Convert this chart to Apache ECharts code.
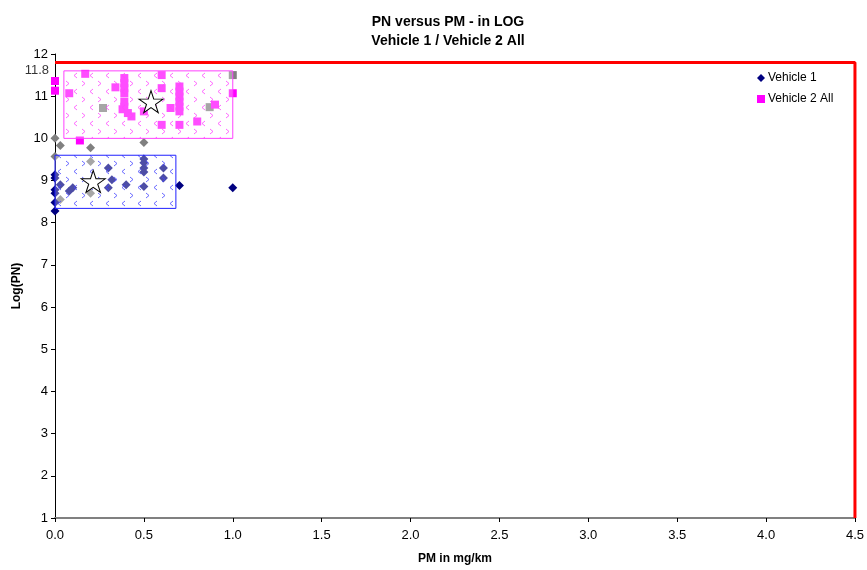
<!DOCTYPE html>
<html><head><meta charset="utf-8">
<script src="https://cdn.jsdelivr.net/npm/echarts@6/dist/echarts.min.js"></script>
<style>html,body{margin:0;padding:0;background:#fff}#c{width:867px;height:570px}</style>
</head><body><div id="c"></div>
<script>
// ---- data ----
const vehicle1 = [
  [0,9.14],[0,9.06],[0,8.78],[0,8.70],[0,8.48],[0,8.28],
  [0.03,8.90],[0.08,8.75],[0.10,8.83],[0.30,9.30],[0.32,9.02],[0.30,8.83],
  [0.40,8.90],[0.50,9.51],[0.50,9.42],[0.50,9.30],[0.50,9.20],[0.50,8.86],
  [0.61,9.30],[0.61,9.06],[0.70,8.88],[1.0,8.83]
];
const vehicle1Grey = [
  [0,10.0],[0.03,9.83],[0.20,9.78],[0.50,9.90],[0,9.57],[0.20,9.45],[0.20,8.70],[0.03,8.55]
];
const vehicle2All = [
  [0,11.36],[0,11.13],[0.14,9.95],[0.17,11.53],[0.08,11.07],[0.34,11.21],
  [0.39,11.43],[0.39,11.31],[0.39,11.19],[0.39,11.07],
  [0.39,10.87],[0.39,10.75],[0.38,10.69],[0.41,10.60],[0.43,10.52],[0.50,10.64],
  [0.60,11.50],[0.60,11.19],
  [0.70,11.23],[0.70,11.11],[0.70,10.99],[0.70,10.87],[0.70,10.75],[0.70,10.64],
  [0.65,10.72],[0.60,10.32],[0.70,10.32],[0.80,10.40],[0.90,10.80],[1.0,11.07]
];
const vehicle2Grey = [[0.27,10.72],[0.87,10.74],[1.0,11.50]];
const stars = [[0.215,8.98],[0.54,10.87]];
const blueBox = [0, 8.34, 0.68, 9.60];
const pinkBox = [0.05, 10.0, 1.0, 11.6];
const limitLine = [[0,11.8],[4.5,11.8],[4.5,1]];
const extraTick = {value: 11.6, text: '11.8'};
const xTicks = {min: 0, max: 4.5, step: 0.5};
const yTicks = {min: 1, max: 12, step: 1};

function makePattern(color){
  const c = document.createElement('canvas');
  c.width = 16; c.height = 16;
  const g = c.getContext('2d');
  g.strokeStyle = color; g.lineWidth = 1;
  g.beginPath(); g.moveTo(2,1); g.lineTo(5,3.5); g.lineTo(2,6); g.stroke();
  g.beginPath(); g.moveTo(13,9); g.lineTo(10,11.5); g.lineTo(13,14); g.stroke();
  return c;
}
const bluePat = makePattern('rgba(70,70,255,0.8)');
const pinkPat = makePattern('rgba(255,70,255,0.8)');

const STAR = 'path://M50,0 L61,35 L98,35 L68,57 L79,91 L50,70 L21,91 L32,57 L2,35 L39,35 Z';

function boxSeries(box, stroke, pat){
  return {
    type: 'custom', z: 5, silent: true,
    data: [box],
    encode: {x: [0,2], y: [1,3]},
    renderItem: function(params, api){
      const p0 = api.coord([api.value(0), api.value(3)]);
      const p1 = api.coord([api.value(2), api.value(1)]);
      const shape = {x: p0[0], y: p0[1], width: p1[0]-p0[0], height: p1[1]-p0[1]};
      return {type:'group', children:[
        {type:'rect', shape: shape, style:{fill:'rgba(255,255,255,0.3)', stroke: null}},
        {type:'rect', shape: shape, style:{fill:{image: pat, repeat:'repeat'}, stroke: stroke, lineWidth: 1}}
      ]};
    }
  };
}

const chart = echarts.init(document.getElementById('c'));
chart.setOption({
  animation: false,
  textStyle: {fontFamily: 'Liberation Sans, Arial'},
  title: {
    text: 'PN versus PM - in LOG\nVehicle 1 / Vehicle 2 All',
    left: 443, top: 8, textAlign: 'center',
    textStyle: {fontSize: 14, fontWeight: 'bold', color: '#000', lineHeight: 19, fontFamily: 'Liberation Sans, Arial'}
  },
  legend: {
    orient: 'vertical', left: 752, top: 67, itemGap: 9,
    itemWidth: 8, itemHeight: 8,
    textStyle: {fontSize: 12, color: '#000', fontFamily: 'Liberation Sans, Arial', padding: [0,0,0,-2]},
    data: [{name:'Vehicle 1', icon:'diamond'}, {name:'Vehicle 2 All', icon:'rect'}]
  },
  grid: {left: 55, right: 12, top: 54, bottom: 50},
  xAxis: {
    type: 'value', min: xTicks.min, max: xTicks.max, interval: xTicks.step,
    name: 'PM in mg/km', nameLocation: 'middle', nameGap: 35,
    nameTextStyle: {fontSize: 12, fontWeight: 'bold', color: '#000'},
    axisLine: {lineStyle: {color: '#808080', width: 2}},
    axisTick: {length: 4, lineStyle: {color: '#000'}},
    axisLabel: {formatter: v => v.toFixed(1), color: '#000', fontSize: 13, margin: 11, fontFamily: 'Liberation Sans Narrow, Liberation Sans, Arial'},
    splitLine: {show: false}
  },
  yAxis: {
    type: 'value', min: yTicks.min, max: yTicks.max, interval: yTicks.step,
    name: 'Log(PN)', nameLocation: 'middle', nameGap: 31,
    nameTextStyle: {fontSize: 12, fontWeight: 'bold', color: '#000'},
    axisLine: {show: true, lineStyle: {color: '#000', width: 1}},
    axisTick: {show: true, length: 4, lineStyle: {color: '#000'}},
    axisLabel: {color: '#000', fontSize: 13, margin: 7},
    splitLine: {show: false}
  },
  series: [
    {
      name: 'Vehicle 2 All (grey)', type: 'scatter', symbol: 'rect', symbolSize: 8,
      itemStyle: {color: '#808080', opacity: 1}, data: vehicle2Grey, z: 2
    },
    {
      name: 'Vehicle 2 All', type: 'scatter', symbol: 'rect', symbolSize: 8,
      itemStyle: {color: '#ff00ff', opacity: 1}, data: vehicle2All, z: 3
    },
    {
      name: 'Vehicle 1 (grey)', type: 'scatter', symbol: 'diamond', symbolSize: 9,
      itemStyle: {color: '#808080', opacity: 1}, data: vehicle1Grey, z: 2
    },
    {
      name: 'Vehicle 1', type: 'scatter', symbol: 'diamond', symbolSize: 9,
      itemStyle: {color: '#000080', opacity: 1}, data: vehicle1, z: 3
    },
    boxSeries(blueBox, '#2020ff', bluePat),
    boxSeries(pinkBox, '#ff40ff', pinkPat),
    {
      name: 'stars', type: 'scatter', symbol: STAR, symbolSize: [24, 22], z: 8,
      itemStyle: {color: '#fff', borderColor: '#000', borderWidth: 1, opacity: 1}, data: stars
    },
    {
      name: 'limit', type: 'line', data: limitLine, showSymbol: false, symbol: 'none',
      lineStyle: {color: '#ff0000', width: 3}, clip: false, z: 9, silent: true
    },
    {
      name: 'extraTick', type: 'scatter', symbolSize: 0, z: 9, silent: true,
      data: [[0, extraTick.value]],
      label: {show: true, position: 'left', distance: 6, formatter: extraTick.text, color: '#000', fontSize: 13, fontFamily: 'Liberation Sans, Arial'}
    }
  ]
});
</script>
</body></html>
